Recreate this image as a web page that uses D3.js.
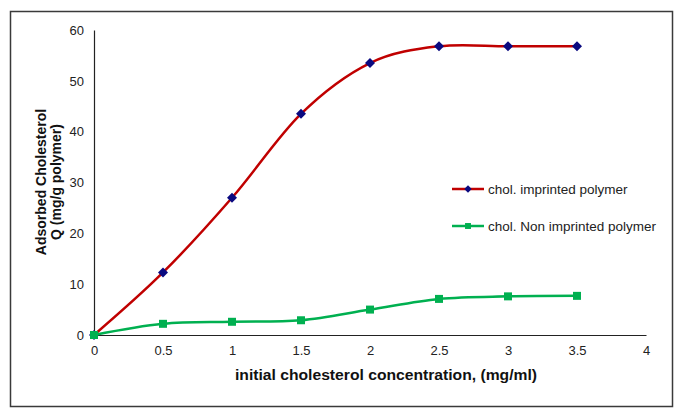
<!DOCTYPE html>
<html lang="en">
<head>
    <meta charset="UTF-8">
    <title>Adsorbed cholesterol</title>
    <script src="https://d3js.org/d3.v7.min.js"></script>
    <style>
        body { margin: 0; background: #fff; }
        text { font-family: "Liberation Sans", Arial, sans-serif; }
    </style>
</head>
<body>
    <div id="chart"></div>
    <script>
        // Data
        const concentrations = [0, 0.5, 1, 1.5, 2, 2.5, 3, 3.5];
        const imprinted = [0, 12.3, 27, 43.5, 53.5, 56.8, 56.8, 56.8];
        const nonImprinted = [0, 2.2, 2.6, 2.9, 5.0, 7.1, 7.6, 7.7];
        const xTicks = [0, 0.5, 1, 1.5, 2, 2.5, 3, 3.5, 4];
        const yTicks = [0, 10, 20, 30, 40, 50, 60];
        const seriesNames = ['chol. imprinted polymer', 'chol. Non imprinted polymer'];

        const width = 683, height = 418;
        const svg = d3.select('#chart')
            .append('svg')
            .attr('width', width)
            .attr('height', height);

        // outer frame
        svg.append('rect')
            .attr('x', 10.5).attr('y', 11.5)
            .attr('width', 662).attr('height', 395)
            .attr('fill', 'none')
            .attr('stroke', '#3a3a3a')
            .attr('stroke-width', 1.5);

        const x = d3.scaleLinear().domain([0, 4]).range([94, 646]);
        const y = d3.scaleLinear().domain([0, 60]).range([335, 30]);

        // axes (no tick marks, just the lines and labels)
        const xAxis = svg.append('g')
            .attr('transform', `translate(0,${y(0)})`)
            .call(d3.axisBottom(x).tickValues(xTicks).tickSize(0).tickPadding(11)
                .tickFormat(d => d));
        xAxis.select('.domain').attr('stroke', '#222').attr('stroke-width', 1.2);
        xAxis.selectAll('text').attr('font-size', 13).attr('fill', '#222');

        const yAxis = svg.append('g')
            .attr('transform', `translate(${x(0)},0)`)
            .call(d3.axisLeft(y).tickValues(yTicks).tickSize(0).tickPadding(10));
        yAxis.select('.domain').attr('stroke', '#222').attr('stroke-width', 1.2);
        yAxis.selectAll('text').attr('font-size', 13).attr('fill', '#222');

        // axis titles
        svg.append('text')
            .attr('x', 386).attr('y', 380)
            .attr('text-anchor', 'middle')
            .attr('font-size', 14).attr('font-weight', 'bold')
            .attr('fill', '#111')
            .attr('textLength', 302)
            .attr('lengthAdjust', 'spacingAndGlyphs')
            .text('initial cholesterol concentration, (mg/ml)');

        const yTitle = svg.append('text')
            .attr('transform', 'translate(46,182) rotate(-90)')
            .attr('text-anchor', 'middle')
            .attr('font-size', 14).attr('font-weight', 'bold')
            .attr('fill', '#111');
        yTitle.append('tspan').attr('x', 0).attr('dy', 0).text('Adsorbed Cholesterol');
        yTitle.append('tspan').attr('x', 0).attr('dy', 15).text('Q (mg/g polymer)');

        const line = d3.line()
            .x(d => x(d[0]))
            .y(d => y(d[1]))
            .curve(d3.curveCatmullRom.alpha(0));

        const series = [
            { name: seriesNames[0], values: imprinted, stroke: '#c00000', marker: '#0a0a80', rot: 45, size: 50 },
            { name: seriesNames[1], values: nonImprinted, stroke: '#00b050', marker: '#00b050', rot: 0, size: 64 }
        ];

        series.forEach(s => {
            const pts = concentrations.map((c, i) => [c, s.values[i]]);
            svg.append('path')
                .datum(pts)
                .attr('fill', 'none')
                .attr('stroke', s.stroke)
                .attr('stroke-width', 2.5)
                .attr('d', line);
            svg.selectAll(null)
                .data(pts)
                .enter()
                .append('path')
                .attr('transform', d => `translate(${x(d[0])},${y(d[1])}) rotate(${s.rot})`)
                .attr('d', d3.symbol().type(d3.symbolSquare).size(s.size))
                .attr('fill', s.marker);
        });

        // legend
        const legend = svg.append('g');
        series.forEach((s, i) => {
            const ly = 189 + i * 37;
            legend.append('line')
                .attr('x1', 452).attr('x2', 484)
                .attr('y1', ly).attr('y2', ly)
                .attr('stroke', s.stroke).attr('stroke-width', 2.5);
            legend.append('path')
                .attr('transform', `translate(468,${ly}) rotate(${s.rot})`)
                .attr('d', d3.symbol().type(d3.symbolSquare).size(s.size * 0.55))
                .attr('fill', s.marker);
            legend.append('text')
                .attr('x', 488).attr('y', ly + 5)
                .attr('font-size', 13.5).attr('fill', '#222')
                .text(s.name);
        });
    </script>
</body>
</html>
